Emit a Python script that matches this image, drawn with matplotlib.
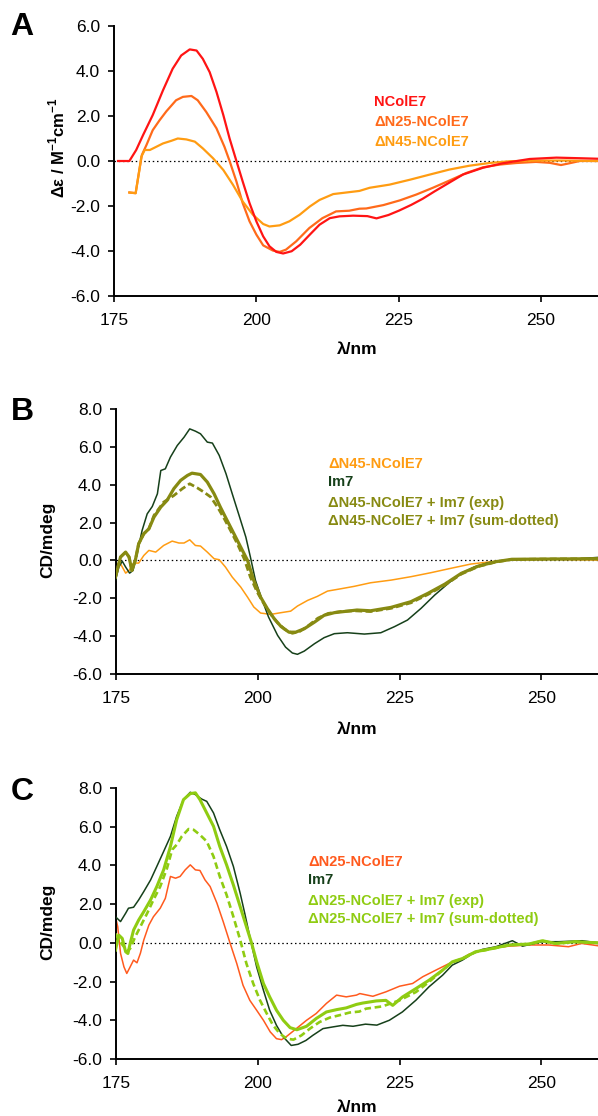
import matplotlib
matplotlib.use("Agg")
import matplotlib.pyplot as plt

plt.rcParams['font.family'] = ['Liberation Sans', 'DejaVu Sans']
plt.rcParams['axes.unicode_minus'] = False
plt.rcParams['mathtext.fontset'] = 'custom'
plt.rcParams['mathtext.rm'] = 'Liberation Sans'
plt.rcParams['mathtext.bf'] = 'Liberation Sans:bold'

# ---------------- Panel A data ----------------
a_ncole7_wl = [175.7, 177.7, 178.9, 180.1, 181.8, 183.6, 185.3, 186.8, 188.3, 189.5, 190.6, 191.8, 193.0, 194.2,
               195.3, 196.5, 197.6, 198.8, 200.0, 201.2, 202.3, 203.5, 204.7, 206.2, 207.7, 209.4, 211.1, 212.9,
               214.6, 217.0, 219.5, 221.1, 223.2, 225.1, 227.2, 229.2, 231.3, 233.3, 236.3, 239.8, 243.3, 248.0,
               252.7, 257.3, 260.0]
a_ncole7 = [0, 0, 0.49, 1.15, 2.04, 3.14, 4.10, 4.69, 4.96, 4.91, 4.54, 3.95, 3.07, 2.04,
            1.0, 0, -0.91, -1.87, -2.68, -3.35, -3.79, -4.04, -4.11, -4.01, -3.72, -3.27, -2.83, -2.54,
            -2.46, -2.43, -2.45, -2.55, -2.40, -2.2, -1.95, -1.68, -1.35, -1.05, -0.6, -0.3, -0.1, 0.09,
            0.15, 0.12, 0.1]

a_dn25_wl = [177.7, 178.8, 179.4, 179.9, 180.7, 181.8, 183.0, 184.2, 185.9, 187.1, 188.6, 189.7, 191.2, 193.0,
             194.4, 195.3, 196.5, 197.6, 198.8, 200.0, 201.2, 202.9, 204.1, 205.2, 207.0, 209.3, 211.6, 214.0,
             216.3, 218.1, 219.3, 222.3, 225.2, 228.1, 231.0, 233.9, 236.9, 239.8, 242.7, 245.6, 249.1, 251.5,
             253.5, 255.0, 256.8, 260.0]
a_dn25 = [-1.40, -1.43, -0.47, 0.27, 0.71, 1.37, 1.81, 2.21, 2.70, 2.85, 2.89, 2.70, 2.18, 1.45,
          0.63, 0, -0.91, -1.87, -2.68, -3.27, -3.75, -3.98, -4.04, -3.94, -3.57, -2.98, -2.54, -2.24,
          -2.21, -2.12, -2.11, -1.96, -1.75, -1.49, -1.19, -0.87, -0.53, -0.28, -0.16, -0.09, -0.04, -0.08,
          -0.18, -0.1, 0.0, 0.0]

a_dn45_wl = [177.7, 178.8, 179.4, 179.8, 180.4, 181.3, 182.1, 183.6, 185.1, 186.2, 187.7, 189.2, 190.6, 192.4,
             194.2, 195.9, 197.6, 199.4, 201.2, 202.3, 204.1, 205.8, 207.6, 209.4, 211.1, 213.5, 215.8, 218.1,
             219.9, 223.4, 227.0, 230.5, 233.9, 237.4, 240.9, 244.5, 249.1, 253.8, 260.0]
a_dn45 = [-1.40, -1.43, -0.5, 0.19, 0.49, 0.49, 0.59, 0.78, 0.90, 1.0, 0.96, 0.86, 0.56, 0.12,
          -0.40, -1.06, -1.80, -2.39, -2.80, -2.91, -2.86, -2.68, -2.39, -2.02, -1.73, -1.47, -1.40, -1.33,
          -1.19, -1.05, -0.83, -0.60, -0.38, -0.21, -0.09, -0.01, 0.02, 0.02, 0.0]

# ---------------- Panel B data ----------------
b_im7_wl = [174.9, 175.5, 176.1, 176.7, 177.4, 178.0, 178.7, 179.6, 180.5, 181.4, 182.3, 182.9, 183.7, 184.6,
            185.8, 187.0, 188.0, 189.0, 189.9, 191.1, 192.0, 193.2, 194.4, 195.5, 196.7, 197.9, 198.7, 199.6,
            200.8, 201.9, 203.5, 204.9, 206.1, 207.0, 208.2, 210.0, 211.7, 213.5, 215.8, 218.8, 221.7, 224.1,
            226.4, 228.8, 231.2, 233.6, 235.9, 238.3, 240.7, 243.6, 247.2, 251.9, 256.6, 260.0]
b_im7 = [-1.06, -0.35, -0.04, -0.35, -0.67, -0.53, 0.35, 1.58, 2.46, 2.85, 3.52, 4.75, 4.84, 5.46,
         6.07, 6.51, 6.95, 6.83, 6.69, 6.25, 6.20, 5.55, 4.58, 3.52, 2.38, 1.23, 0.18, -1.06,
         -2.11, -2.99, -3.96, -4.58, -4.89, -4.96, -4.79, -4.40, -4.08, -3.87, -3.82, -3.89, -3.82, -3.50,
         -3.15, -2.53, -1.83, -1.21, -0.68, -0.33, -0.12, 0.02, 0.06, 0.09, 0.09, 0.16]

b_exp_wl = [174.9, 175.8, 176.7, 177.3, 177.8, 178.4, 179.0, 179.9, 180.8, 181.7, 182.9, 184.0, 185.2, 186.4,
            187.6, 188.4, 189.9, 191.1, 192.3, 193.4, 194.6, 195.8, 197.0, 198.2, 199.3, 200.5, 201.7, 202.9,
            204.1, 205.5, 206.7, 208.2, 210.0, 211.7, 213.5, 215.8, 217.5, 219.9, 223.5, 227.0, 230.0, 233.0,
            235.9, 238.9, 241.9, 244.8, 249.5, 260.0]
b_exp = [-0.88, 0.18, 0.44, 0.18, -0.53, 0.0, 0.88, 1.41, 1.67, 2.29, 2.82, 3.17, 3.79, 4.23,
         4.49, 4.61, 4.54, 4.14, 3.52, 2.82, 2.11, 1.41, 0.70, 0.0, -1.06, -1.94, -2.55, -3.08,
         -3.49, -3.79, -3.79, -3.61, -3.26, -2.90, -2.76, -2.68, -2.62, -2.66, -2.48, -2.18, -1.74, -1.25,
         -0.68, -0.30, -0.07, 0.06, 0.07, 0.09]

b_sum_wl = [174.9, 175.8, 176.7, 177.3, 177.8, 178.4, 179.0, 179.9, 180.8, 181.7, 183.4, 185.2, 186.7, 188.0,
            189.3, 190.5, 191.7, 192.9, 194.1, 195.2, 196.4, 197.6, 198.7, 199.9, 201.1, 202.3, 203.5, 204.8,
            206.1, 207.4, 208.9, 210.6, 212.4, 214.6, 217.0, 219.9, 223.5, 227.0, 230.0, 233.0, 235.9, 238.9,
            241.9, 244.8, 249.5, 260.0]
b_sum = [-0.88, 0.18, 0.44, 0.18, -0.53, 0.0, 0.88, 1.41, 1.67, 2.38, 3.08, 3.43, 3.79, 4.05,
         3.84, 3.61, 3.35, 2.82, 2.20, 1.58, 0.88, 0.09, -0.88, -1.67, -2.30, -2.85, -3.30, -3.65,
         -3.85, -3.75, -3.45, -3.05, -2.80, -2.70, -2.66, -2.70, -2.53, -2.24, -1.80, -1.30, -0.72, -0.32,
         -0.09, 0.05, 0.07, 0.09]

b_dn45_wl = [174.9, 175.8, 176.7, 177.3, 178.1, 179.0, 179.9, 180.8, 182.0, 183.4, 184.9, 186.1, 187.0, 188.0,
             189.0, 189.9, 191.1, 192.3, 193.2, 194.3, 195.5, 197.0, 198.2, 199.3, 200.5, 202.3, 204.1, 205.8,
             207.0, 208.8, 210.5, 212.3, 214.6, 217.0, 219.9, 223.5, 227.0, 230.5, 234.0, 237.6, 241.1, 244.7,
             251.7, 260.0]
b_dn45 = [-0.18, -0.18, -0.67, -0.53, -0.14, -0.14, 0.26, 0.53, 0.44, 0.79, 1.02, 0.92, 0.92, 1.09,
          0.79, 0.76, 0.44, 0.09, 0.04, -0.35, -0.88, -1.41, -1.94, -2.46, -2.78, -2.85, -2.76, -2.68,
          -2.41, -2.11, -1.90, -1.62, -1.50, -1.37, -1.18, -1.04, -0.86, -0.65, -0.42, -0.19, -0.07, 0.02,
          0.06, 0.02]

# ---------------- Panel C data ----------------
c_dn25_wl = [174.9, 175.3, 175.8, 176.4, 176.9, 177.5, 178.1, 178.7, 179.3, 179.9, 180.8, 181.6, 182.8, 183.7,
             184.6, 185.5, 186.3, 187.2, 188.1, 189.0, 189.8, 190.7, 191.6, 192.8, 193.9, 195.1, 196.3, 197.4,
             198.6, 199.8, 201.0, 202.2, 203.3, 204.2, 205.1, 206.8, 208.6, 210.3, 212.1, 213.9, 215.6, 217.4,
             218.0, 220.3, 222.6, 225.0, 227.3, 229.1, 231.4, 233.8, 235.5, 237.3, 240.8, 244.3, 247.8, 251.3,
             254.8, 257.1, 260.0]
c_dn25 = [1.35, 0.84, -0.54, -1.24, -1.58, -1.24, -0.89, -1.03, -0.54, 0.15, 0.92, 1.35, 1.79, 2.30,
          3.43, 3.34, 3.43, 3.77, 4.03, 3.77, 3.74, 3.25, 2.91, 2.05, 1.10, 0.0, -1.07, -2.19,
          -2.97, -3.48, -4.0, -4.6, -4.95, -5.0, -4.83, -4.43, -4.0, -3.65, -3.13, -2.70, -2.79, -2.70,
          -2.62, -2.76, -2.53, -2.24, -2.1, -1.75, -1.41, -1.06, -0.9, -0.58, -0.29, -0.17, -0.11, -0.11,
          -0.2, -0.03, -0.15]

c_im7_wl = [174.9, 175.8, 176.7, 177.2, 178.1, 179.0, 179.9, 181.1, 182.2, 183.4, 184.6, 185.7, 186.9, 188.1,
            189.0, 190.1, 191.0, 192.2, 193.3, 194.5, 195.7, 196.9, 197.7, 198.6, 199.8, 201.0, 202.1, 203.3,
            204.5, 205.9, 207.1, 208.5, 209.7, 211.5, 213.3, 215.0, 216.8, 219.0, 221.0, 223.2, 225.5, 227.9,
            230.2, 232.6, 234.3, 236.1, 237.9, 239.6, 242.0, 244.9, 246.7, 250.2, 253.1, 257.2, 260.0]
c_im7 = [1.35, 1.10, 1.53, 1.79, 1.84, 2.22, 2.65, 3.25, 3.95, 4.72, 5.50, 6.54, 7.40, 7.78,
         7.66, 7.43, 7.31, 6.71, 5.84, 4.98, 3.95, 2.56, 1.53, 0.32, -1.24, -2.45, -3.48, -4.26,
         -4.86, -5.30, -5.24, -5.04, -4.78, -4.43, -4.34, -4.26, -4.31, -4.2, -4.25, -4.0, -3.57, -2.96,
         -2.27, -1.67, -1.15, -0.89, -0.55, -0.34, -0.20, 0.11, -0.17, 0.06, 0.06, 0.11, 0.0]

c_exp_wl = [174.9, 175.5, 176.1, 176.7, 177.1, 177.5, 178.1, 179.0, 179.9, 181.1, 182.2, 183.4, 184.6, 185.7,
            186.9, 188.1, 189.0, 189.8, 191.0, 192.2, 193.3, 194.5, 195.7, 196.9, 198.0, 198.9, 199.8, 201.0,
            202.1, 203.3, 204.5, 205.7, 206.9, 208.6, 210.3, 212.1, 213.9, 215.6, 217.4, 218.5, 220.9, 222.6,
            223.8, 225.5, 227.9, 230.2, 232.6, 234.3, 236.1, 238.4, 241.4, 244.3, 247.8, 250.2, 252.5, 256.0,
            260.0]
c_exp = [-0.38, 0.40, 0.23, -0.46, -0.55, -0.03, 0.66, 1.18, 1.61, 2.22, 2.91, 3.77, 4.98, 6.36,
         7.40, 7.71, 7.75, 7.40, 6.71, 6.02, 4.98, 4.03, 2.99, 1.87, 0.84, 0.0, -0.97, -2.10,
         -2.79, -3.48, -4.0, -4.38, -4.49, -4.31, -3.91, -3.57, -3.45, -3.36, -3.18, -3.11, -3.0, -2.97,
         -3.23, -2.8, -2.36, -1.93, -1.41, -0.98, -0.81, -0.46, -0.29, -0.11, -0.06, 0.11, -0.03, 0.06,
         0.0]

c_sum_wl = [174.9, 175.5, 176.4, 176.9, 177.5, 178.4, 179.3, 180.5, 181.6, 182.8, 184.0, 184.9, 185.7, 186.6,
            187.8, 188.7, 189.8, 191.0, 192.2, 193.3, 194.5, 195.7, 196.9, 198.0, 199.2, 200.4, 201.6, 202.7,
            203.9, 205.1, 206.3, 207.7, 209.2, 210.9, 212.7, 214.4, 216.2, 217.9, 219.1, 222.0, 225.0, 227.9,
            230.2, 232.6, 234.3, 236.1, 238.4, 241.4, 244.3, 247.8, 250.2, 252.5, 256.0, 260.0]
c_sum = [0.48, 0.14, -0.2, -0.46, -0.29, 0.32, 0.84, 1.53, 2.22, 2.91, 3.86, 4.81, 5.07, 5.50,
         5.88, 5.84, 5.58, 5.24, 4.46, 3.43, 2.48, 1.35, 0.15, -1.07, -2.10, -2.97, -3.66, -4.26,
         -4.69, -4.95, -5.0, -4.78, -4.43, -4.09, -3.86, -3.74, -3.60, -3.55, -3.40, -3.28, -2.97, -2.54,
         -2.02, -1.41, -1.0, -0.82, -0.48, -0.30, -0.12, -0.07, 0.10, -0.04, 0.05, 0.0]

x_ticks = [175, 200, 225, 250]
a_yticks = [-6.0, -4.0, -2.0, 0.0, 2.0, 4.0, 6.0]
bc_yticks = [-6.0, -4.0, -2.0, 0.0, 2.0, 4.0, 6.0, 8.0]

# ---------------- colours ----------------
RED = '#ff1414'
ORANGE_A = '#ff6a1a'
AMBER = '#ff9c12'
DKGREEN = '#16401a'
OLIVE = '#878a12'
ORANGE_C = '#ff5a1e'
LIME = '#8fcc12'

W, H = 598, 1116
fig = plt.figure(figsize=(W / 100, H / 100), dpi=100)


def fx(x):
    return x / W


def fy(y):
    return 1 - y / H


def make_ax(left, top, bottom, yticks, ylim):
    ax = fig.add_axes([fx(left), fy(bottom), fx(W - left), (bottom - top) / H])
    ax.set_xlim(175, 260)
    ax.set_ylim(*ylim)
    ax.set_xticks(x_ticks)
    ax.set_yticks(yticks)
    ax.set_yticklabels(['%.1f' % v for v in yticks])
    for s in ['top', 'right']:
        ax.spines[s].set_visible(False)
    for s in ['left', 'bottom']:
        ax.spines[s].set_linewidth(1.4)
        ax.spines[s].set_color('black')
    ax.tick_params(direction='out', length=4, width=1.2, labelsize=12.5, colors='black')
    ax.tick_params(axis='x', pad=8)
    ax.tick_params(axis='y', pad=6)
    ax.axhline(0, color='black', lw=0.9, ls=(0, (1.2, 2.2)), zorder=1)
    return ax


def legend(x, ys, labels, colors):
    for y, lab, c in zip(ys, labels, colors):
        fig.text(fx(x), fy(y + 5.5), lab, color=c, fontsize=10.5, fontweight='bold',
                 ha='left', va='baseline')


# Panel A
axA = make_ax(114, 26, 296, a_yticks, (-6, 6))
axA.plot(a_ncole7_wl, a_ncole7, color=RED, lw=1.6, zorder=3)
axA.plot(a_dn25_wl, a_dn25, color=ORANGE_A, lw=1.6, zorder=2)
axA.plot(a_dn45_wl, a_dn45, color=AMBER, lw=1.6, zorder=2)
fig.text(fx(57), fy(148), 'Δε / M$^{\\mathbf{-1}}$cm$^{\\mathbf{-1}}$', rotation=90, fontsize=12,
         fontweight='bold', ha='center', va='center')
fig.text(fx(357), fy(350), 'λ/nm', fontsize=12.5, fontweight='bold', ha='center', va='center')
legend(374, [101, 121, 140], ['NColE7', 'ΔN25-NColE7', 'ΔN45-NColE7'], [RED, ORANGE_A, AMBER])
fig.text(fx(22), fy(27), 'A', fontsize=23, fontweight='bold', ha='center', va='center')

# Panel B
axB = make_ax(116, 409, 674, bc_yticks, (-6, 8))
axB.plot(b_dn45_wl, b_dn45, color=AMBER, lw=1.1, zorder=2)
axB.plot(b_im7_wl, b_im7, color=DKGREEN, lw=1.1, zorder=3)
axB.plot(b_sum_wl, b_sum, color=OLIVE, lw=2.0, ls=(0, (2.5, 1.2)), zorder=4)
axB.plot(b_exp_wl, b_exp, color=OLIVE, lw=2.3, zorder=4)
fig.text(fx(48), fy(540), 'CD/mdeg', rotation=90, fontsize=12.5, fontweight='bold', ha='center', va='center')
fig.text(fx(357), fy(730), 'λ/nm', fontsize=12.5, fontweight='bold', ha='center', va='center')
legend(328, [462, 481, 501, 520],
       ['ΔN45-NColE7', 'Im7', 'ΔN45-NColE7 + Im7 (exp)', 'ΔN45-NColE7 + Im7 (sum-dotted)'],
       [AMBER, DKGREEN, OLIVE, OLIVE])
fig.text(fx(22), fy(412), 'B', fontsize=23, fontweight='bold', ha='center', va='center')

# Panel C
axC = make_ax(116, 788, 1059, bc_yticks, (-6, 8))
axC.plot(c_dn25_wl, c_dn25, color=ORANGE_C, lw=1.1, zorder=2)
axC.plot(c_im7_wl, c_im7, color=DKGREEN, lw=1.1, zorder=3)
axC.plot(c_sum_wl, c_sum, color=LIME, lw=1.9, ls=(0, (2.5, 1.4)), zorder=4)
axC.plot(c_exp_wl, c_exp, color=LIME, lw=2.2, zorder=4)
fig.text(fx(48), fy(922), 'CD/mdeg', rotation=90, fontsize=12.5, fontweight='bold', ha='center', va='center')
fig.text(fx(357), fy(1108), 'λ/nm', fontsize=12.5, fontweight='bold', ha='center', va='center')
legend(308, [860, 879, 899, 917],
       ['ΔN25-NColE7', 'Im7', 'ΔN25-NColE7 + Im7 (exp)', 'ΔN25-NColE7 + Im7 (sum-dotted)'],
       [ORANGE_C, DKGREEN, LIME, LIME])
fig.text(fx(22), fy(792), 'C', fontsize=23, fontweight='bold', ha='center', va='center')

fig.savefig('out.png', dpi=100)
